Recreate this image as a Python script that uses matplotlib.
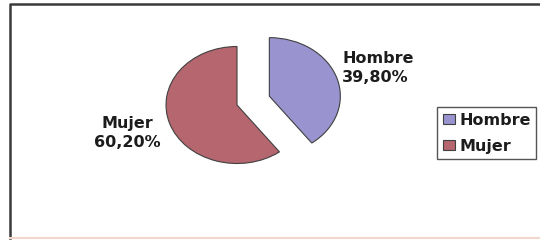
import matplotlib
matplotlib.use("Agg")
import matplotlib.pyplot as plt
from matplotlib.patches import Patch
from matplotlib.lines import Line2D

labels = ["Hombre", "Mujer"]
values = [39.80, 60.20]
pct_text = ["39,80%", "60,20%"]
colors = ["#9993cf", "#b5666e"]
explode = [0.48, 0.0]

plt.rcParams["font.family"] = ["DejaVu Sans"]

W, H = 540, 240
fig = plt.figure(figsize=(W / 100, H / 100), dpi=100)
fig.patch.set_facecolor("white")

# chart frame: dark left/top edges, faint bottom edge, open to the right
fig.add_artist(Line2D([10 / W, 10 / W, 1.0], [1 - 238 / H, 1 - 3.5 / H, 1 - 3.5 / H],
                      transform=fig.transFigure, color="#3a3a3a", lw=1.8))
fig.add_artist(Line2D([10 / W, 1.0], [1 - 238 / H, 1 - 238 / H],
                      transform=fig.transFigure, color="#f3d6cc", lw=1.5))

# pie axes: unit radius -> 71 px wide, 58.5 px tall, centre at (237, 105)
rx, ry, cx, cy = 71, 58.5, 237, 105
ax = fig.add_axes([(cx - 2 * rx) / W, (H - cy - 2 * ry) / H, 4 * rx / W, 4 * ry / H])
wedges, _ = ax.pie(values, colors=colors, explode=explode, startangle=90,
                   counterclock=False,
                   wedgeprops=dict(edgecolor="#404040", linewidth=0.8))
ax.set_aspect("auto")
ax.set_xlim(-2, 2)
ax.set_ylim(-2, 2)
ax.axis("off")

# data labels
fig.text(342 / W, 1 - 51 / H, f"{labels[0]}\n{pct_text[0]}", ha="left", va="top",
         fontsize=11.5, fontweight="bold", color="#1c1c1c", linespacing=1.3)
fig.text(127 / W, 1 - 116 / H, f"{labels[1]}\n{pct_text[1]}", ha="center", va="top",
         fontsize=11.5, fontweight="bold", color="#1c1c1c", linespacing=1.3)

handles = [Patch(facecolor=c, edgecolor="#404040", lw=0.8) for c in colors]
leg = fig.legend(handles, labels, loc="upper left",
                 bbox_to_anchor=(437 / W, 1 - 107 / H), borderaxespad=0,
                 frameon=True, fancybox=False, framealpha=1,
                 edgecolor="#555555", handlelength=0.75, handleheight=0.65,
                 handletextpad=0.3, borderpad=0.35, labelspacing=0.7,
                 prop=dict(size=11.5, weight="bold"))
leg.get_frame().set_linewidth(1.0)
for t in leg.get_texts():
    t.set_color("#1c1c1c")

fig.savefig("out.png", dpi=100, facecolor="white")
